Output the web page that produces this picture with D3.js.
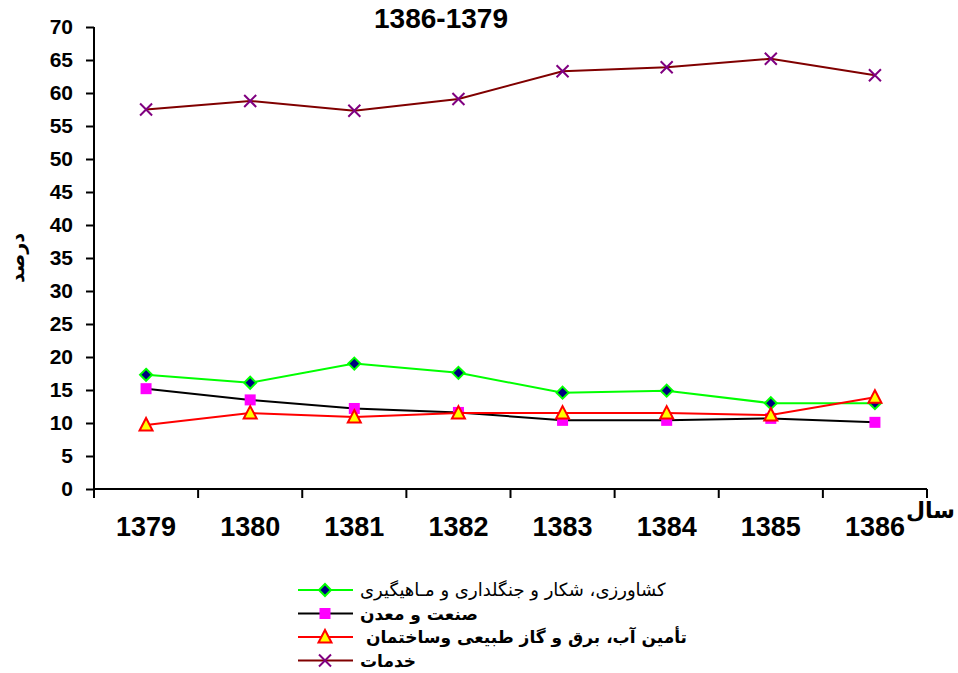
<!DOCTYPE html>
<html>
<head>
<meta charset="utf-8">
<script src="https://cdn.jsdelivr.net/npm/d3@7"></script>
<style>
  body { margin: 0; background: #fff; }
  svg { display: block; font-family: "Liberation Sans", Arial, "DejaVu Sans", sans-serif; }
</style>
</head>
<body>
<svg id="chart" width="958" height="673"></svg>
<script>
const years = ['1379', '1380', '1381', '1382', '1383', '1384', '1385', '1386'];
const yTicks = [0, 5, 10, 15, 20, 25, 30, 35, 40, 45, 50, 55, 60, 65, 70];

const agriculture = [17.3, 16.1, 19.0, 17.6, 14.6, 14.9, 13.0, 13.0];
const industry = [15.2, 13.5, 12.2, 11.6, 10.4, 10.4, 10.7, 10.1];
const utilities = [9.7, 11.5, 10.9, 11.5, 11.5, 11.5, 11.2, 13.9];
const services = [57.5, 58.8, 57.3, 59.1, 63.3, 63.9, 65.2, 62.7];

const seriesNames = [
  'کشاورزی، شکار و جنگلداری و مـاهیگیری',
  'صنعت و معدن',
  ' تأمین آب، برق و گاز طبیعی وساختمان',
  'خدمات'
];

const series = [
  { name: seriesNames[0], values: agriculture, line: '#00ff00', marker: 'diamond', bold: false },
  { name: seriesNames[1], values: industry, line: '#000000', marker: 'square', bold: true },
  { name: seriesNames[2], values: utilities, line: '#ff0000', marker: 'triangle', bold: true },
  { name: seriesNames[3], values: services, line: '#800000', marker: 'cross', bold: true }
];

const svg = d3.select('#chart');

const x = d3.scaleBand().domain(years).range([94, 927]).padding(0);
const y = d3.scaleLinear().domain([0, 70]).range([489, 27]);

// title
svg.append('text')
  .attr('x', 441)
  .attr('y', 28)
  .attr('text-anchor', 'middle')
  .attr('font-size', 28)
  .attr('font-weight', 'bold')
  .text('1386-1379');

// y axis
const yAxis = svg.append('g')
  .attr('transform', 'translate(94,0)')
  .call(d3.axisLeft(y).tickValues(yTicks).tickSize(8).tickPadding(13));
yAxis.select('.domain').attr('stroke-width', 2).attr('d', `M0,${y(70)}V${y(0)}`);
yAxis.selectAll('.tick line').attr('stroke-width', 2);
yAxis.selectAll('.tick text')
  .attr('font-size', 21)
  .attr('font-weight', 'bold')
  .attr('font-family', '"Liberation Sans", Arial, sans-serif')
  .attr('fill', '#000');

// x axis
const xAxis = svg.append('g')
  .attr('transform', `translate(0,${y(0)})`)
  .call(d3.axisBottom(x).tickSize(0).tickPadding(28));
xAxis.select('.domain').attr('stroke-width', 2).attr('d', `M${x.range()[0]},0H${x.range()[1]}`);
xAxis.selectAll('.tick text')
  .attr('font-size', 27)
  .attr('font-weight', 'bold')
  .attr('font-family', '"Liberation Sans", Arial, sans-serif')
  .attr('fill', '#000');

const edges = years.map((d) => x(d)).concat([x(years[years.length - 1]) + x.bandwidth()]);
xAxis.selectAll('.edge')
  .data(edges)
  .enter()
  .append('line')
  .attr('class', 'edge')
  .attr('x1', (d) => d)
  .attr('x2', (d) => d)
  .attr('y1', 0)
  .attr('y2', 9)
  .attr('stroke', '#000')
  .attr('stroke-width', 2);

// axis titles
svg.append('text')
  .attr('transform', 'translate(24,258) rotate(-90)')
  .attr('text-anchor', 'middle')
  .attr('font-size', 19)
  .attr('font-weight', 'bold')
  .text('درصد');

svg.append('text')
  .attr('x', 955)
  .attr('y', 518)
  .attr('text-anchor', 'end')
  .style('direction', 'ltr')
  .attr('font-size', 22)
  .attr('font-weight', 'bold')
  .text('سال');

// markers
function drawMarker(g, type) {
  if (type === 'diamond') {
    g.append('path').attr('d', 'M0,-6L6,0L0,6L-6,0Z')
      .attr('fill', '#000080').attr('stroke', '#00ff00').attr('stroke-width', 2);
  } else if (type === 'square') {
    g.append('rect').attr('x', -5.5).attr('y', -5.5).attr('width', 11).attr('height', 11)
      .attr('fill', '#ff00ff');
  } else if (type === 'triangle') {
    g.append('path').attr('d', 'M0,-7L6.5,5.5L-6.5,5.5Z')
      .attr('fill', '#ffff00').attr('stroke', '#ff0000').attr('stroke-width', 2);
  } else if (type === 'cross') {
    g.append('path').attr('d', 'M-6,-6L6,6M-6,6L6,-6')
      .attr('stroke', '#800080').attr('stroke-width', 2).attr('fill', 'none');
  }
}

const line = d3.line()
  .x((d, i) => x(years[i]) + x.bandwidth() / 2)
  .y((d) => y(d));

series.forEach((s) => {
  svg.append('path')
    .attr('d', line(s.values))
    .attr('fill', 'none')
    .attr('stroke', s.line)
    .attr('stroke-width', 2);
  s.values.forEach((v, i) => {
    const g = svg.append('g')
      .attr('transform', `translate(${x(years[i]) + x.bandwidth() / 2},${y(v)})`);
    drawMarker(g, s.marker);
  });
});

// legend
const legend = svg.append('g').attr('transform', 'translate(298,590)');
series.forEach((s, i) => {
  const row = legend.append('g').attr('transform', `translate(0,${i * 23.5})`);
  row.append('line')
    .attr('x1', 0).attr('x2', 55)
    .attr('stroke', s.line).attr('stroke-width', 2);
  drawMarker(row.append('g').attr('transform', 'translate(27,0)'), s.marker);
  row.append('text')
    .attr('x', 62)
    .attr('y', 6)
    .attr('font-size', s.bold ? 17 : 18)
    .attr('font-weight', s.bold ? 'bold' : 'normal')
    .attr('font-family', '"DejaVu Sans", sans-serif')
    .style('white-space', 'pre')
    .text(s.name);
});
</script>
</body>
</html>
